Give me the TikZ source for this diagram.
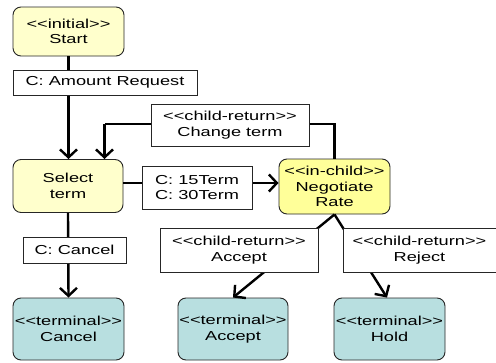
\documentclass[tikz,border=0pt]{standalone}
\usepackage{fontspec}
\setmainfont{Liberation Sans}[FakeStretch=1.4]
\usetikzlibrary{arrows.meta}
\definecolor{paleyellow}{HTML}{FFFFCC}
\definecolor{brightyellow}{HTML}{FFFF99}
\definecolor{termteal}{HTML}{B8DFE0}
% guillemet-free stereotype brackets (the kern keeps the font mapping from merging them)
\newcommand\stL{<\kern0pt<}
\newcommand\stR{>\kern0pt>}
\newcommand\stereo[1]{\stL#1\stR}
\tikzset{
  state/.style={draw=black!85, line width=0.9pt, rounded corners=8pt, align=center,
    inner sep=0pt, font=\fontsize{13}{15.5}\selectfont},
  initstate/.style={state, fill=paleyellow},
  childstate/.style={state, fill=brightyellow},
  termstate/.style={state, fill=termteal},
  tlabel/.style={draw=black!85, fill=white, line width=0.9pt, align=center,
    inner sep=0pt, font=\fontsize{13}{15.5}\selectfont},
  flow/.style={line width=2.4pt, -{Straight Barb[length=8pt,width=17pt]}},
  plain/.style={line width=2.4pt}
}
\begin{document}
\begin{tikzpicture}[x=1pt,y=-1pt]
\useasboundingbox (0,0) rectangle (496,362);

% states
\node[initstate, minimum width=111pt, minimum height=49pt] (start) at (68.5,31.5) {\stereo{initial}\\Start};
\node[initstate, minimum width=110pt, minimum height=53pt] (select) at (68,186) {Select\\term};
\node[childstate, minimum width=111pt, minimum height=55pt] (nego) at (334.5,186.5) {\stereo{in-child}\\Negotiate\\Rate};
\node[termstate, minimum width=111pt, minimum height=62pt] (tcancel) at (68.5,329) {\stereo{terminal}\\Cancel};
\node[termstate, minimum width=110pt, minimum height=62pt] (taccept) at (233,329) {\stereo{terminal}\\Accept};
\node[termstate, minimum width=111pt, minimum height=62pt] (thold) at (389.5,329) {\stereo{terminal}\\Hold};

% helper points on the state outlines
\coordinate (selN1) at (select.north -| start.south);
\coordinate (selN2) at (104.5,0 |- select.north);
\coordinate (c1) at (nego.north |- 0,124);
\coordinate (c2) at (selN2 |- 0,124);
\coordinate (holdTop) at (387,0 |- thold.north);

% transitions
\draw[flow] (start.south) -- (selN1);
\draw[plain] (nego.north) -- (c1) -- (c2);
\draw[flow] (c2) -- (selN2);
\draw[flow] (select.east |- 0,183) -- (nego.west |- 0,183);
\draw[flow] (select.south) -- (tcancel.north);
\draw[flow] (nego.south) -- (taccept.north);
\draw[flow] (nego.south) -- (holdTop);

% transition labels
\node[tlabel, minimum width=184pt, minimum height=25pt] (lamount) at (105,82.5) {C: Amount Request};
\node[tlabel, minimum width=158pt, minimum height=42pt] (lchange) at (230,125) {\stereo{child-return}\\Change term};
\node[tlabel, minimum width=110pt, minimum height=43pt] (lterms) at (197,187.5) {C: 15Term\\C: 30Term};
\node[tlabel, minimum width=103pt, minimum height=26pt] (lcancel) at (74.5,250) {C: Cancel};
\node[tlabel, minimum width=158pt, minimum height=44pt] (laccept) at (239,250) {\stereo{child-return}\\Accept};
\node[tlabel, minimum width=153pt, minimum height=44pt] (lreject) at (419.5,250) {\stereo{child-return}\\Reject};
\end{tikzpicture}
\end{document}
